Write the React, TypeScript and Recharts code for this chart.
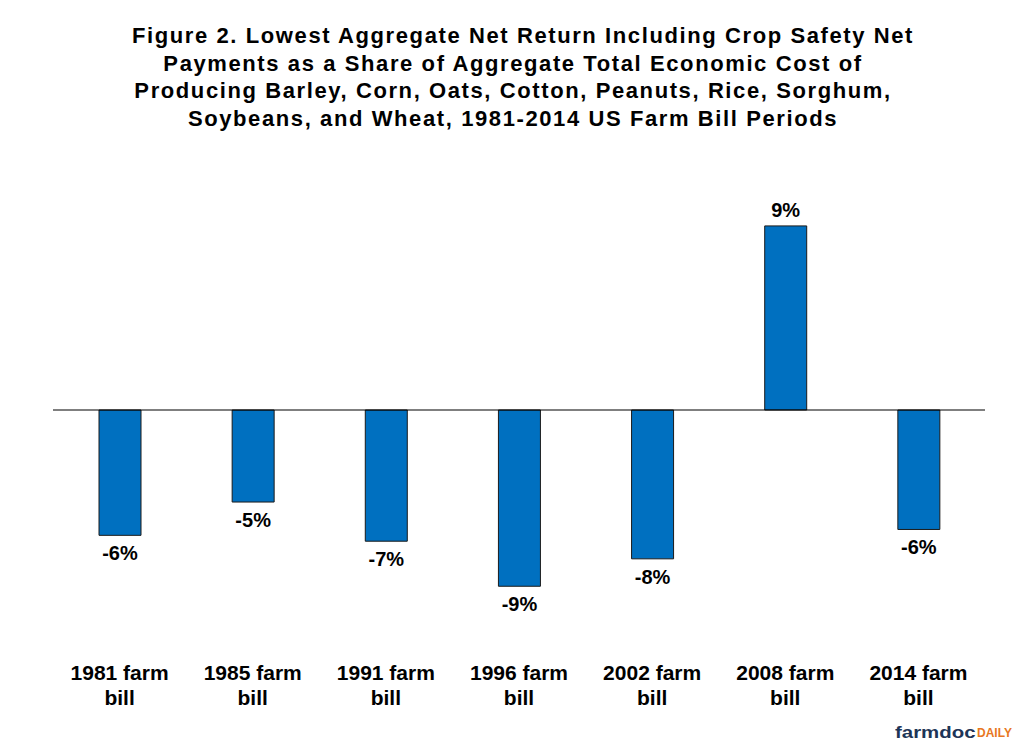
import { Bar, BarChart, LabelList, ReferenceLine, XAxis, YAxis } from "recharts";

const categories = [
  "1981 farm bill",
  "1985 farm bill",
  "1991 farm bill",
  "1996 farm bill",
  "2002 farm bill",
  "2008 farm bill",
  "2014 farm bill",
];

// lowest net return incl. safety net payments, % of total economic cost
const shares = [-6.4, -4.7, -6.7, -9.0, -7.6, 9.4, -6.1];

const titleLines = [
  "Figure 2. Lowest Aggregate Net Return Including Crop Safety Net",
  "Payments as a Share of Aggregate Total Economic Cost of",
  "Producing Barley, Corn, Oats, Cotton, Peanuts, Rice, Sorghum,",
  "Soybeans, and Wheat, 1981-2014 US Farm Bill Periods",
];

const data = categories.map((name, i) => ({ name, share: shares[i] }));

const FONT = "'Liberation Sans', Arial, sans-serif";

function CategoryTick(props: any) {
  const { x, y, payload } = props;
  const label: string = payload.value;
  const cut = label.lastIndexOf(" ");
  return (
    <g>
      <text
        x={x}
        y={y + 34.5}
        textAnchor="middle"
        fontFamily={FONT}
        fontWeight="bold"
        fontSize={21}
        fill="#000"
      >
        {label.slice(0, cut)}
      </text>
      <text
        x={x}
        y={y + 59.5}
        textAnchor="middle"
        fontFamily={FONT}
        fontWeight="bold"
        fontSize={21}
        fill="#000"
      >
        {label.slice(cut + 1)}
      </text>
    </g>
  );
}

function ValueLabel(props: any) {
  const { x, y, width, height, value } = props;
  const top = Math.min(y, y + height);
  const bottom = Math.max(y, y + height);
  const ty = value >= 0 ? top - 9 : bottom + 25;
  return (
    <text
      x={x + width / 2}
      y={ty}
      textAnchor="middle"
      fontFamily={FONT}
      fontWeight="bold"
      fontSize={20}
      fill="#000"
    >
      {`${Math.round(value)}%`}
    </text>
  );
}

export default function App() {
  return (
    <div
      style={{
        position: "absolute",
        left: 0,
        top: 0,
        width: 1013,
        height: 744,
        background: "#fff",
        fontFamily: FONT,
        overflow: "hidden",
      }}
    >
      <div
        style={{
          position: "absolute",
          left: 0,
          top: 22,
          width: 1026,
          textAlign: "center",
          fontWeight: "bold",
          fontSize: 22,
          letterSpacing: "1.6px",
          lineHeight: "27.5px",
          color: "#000",
        }}
      >
        {titleLines.map((line, i) => (
          <div key={line} style={{ paddingLeft: i === 0 ? 20 : 0 }}>
            {line}
          </div>
        ))}
      </div>
      <BarChart
        width={1013}
        height={744}
        data={data}
        margin={{ top: 175, right: 28, bottom: 69, left: 53 }}
        barSize={42}
        style={{ position: "absolute", left: 0, top: 0 }}
      >
        <XAxis
          dataKey="name"
          axisLine={false}
          tickLine={false}
          tickSize={0}
          tickMargin={0}
          interval={0}
          tick={<CategoryTick />}
        />
        <YAxis hide domain={[-12, 12]} />
        <Bar
          dataKey="share"
          fill="#0070C0"
          stroke="#1a1a1a"
          strokeWidth={1}
          isAnimationActive={false}
        >
          <LabelList dataKey="share" content={<ValueLabel />} />
        </Bar>
        <ReferenceLine y={0} stroke="#000" strokeWidth={1.2} />
      </BarChart>
      <span
        style={{
          position: "absolute",
          left: 895,
          top: 724,
          fontSize: 17,
          lineHeight: "17px",
          fontWeight: "bold",
          color: "#1d3557",
          whiteSpace: "nowrap",
          transform: "scaleX(1.2)",
          transformOrigin: "left top",
        }}
      >
        farmdoc
      </span>
      <span
        style={{
          position: "absolute",
          left: 977,
          top: 727,
          fontSize: 12,
          lineHeight: "12px",
          fontWeight: "bold",
          color: "#e87722",
          whiteSpace: "nowrap",
        }}
      >
        DAILY
      </span>
    </div>
  );
}
